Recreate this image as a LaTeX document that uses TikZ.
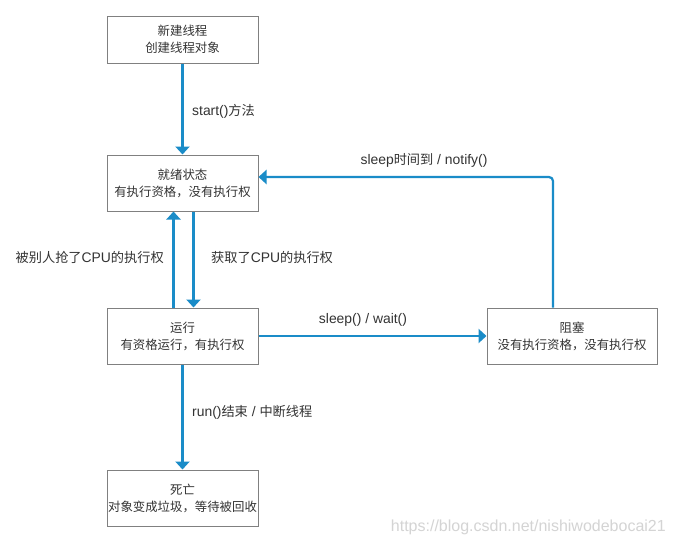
\documentclass[tikz,border=0pt]{standalone}
\usepackage{fontspec}
\setmainfont{Liberation Sans}
\newfontfamily\cjk{Noto Sans CJK SC}
\usetikzlibrary{arrows.meta}
\definecolor{arrblue}{HTML}{1A8CC8}
\definecolor{boxgray}{HTML}{808080}
\definecolor{txt}{HTML}{333333}
\definecolor{wm}{HTML}{D4D4D4}
\newcommand\latn[1]{{\fontsize{13.9}{15}\selectfont #1}}
\begin{document}
\begin{tikzpicture}[x=1pt,y=-1pt,
  statebox/.style={draw=boxgray, line width=1pt, fill=white, align=center, text=txt,
    font=\fontsize{12.4}{17}\selectfont, inner sep=0pt},
  arr/.style={draw=arrblue, line width=2.2pt, -{Triangle[width=14pt,length=8pt]}},
  lbl/.style={text=txt, font=\fontsize{13.2}{15}\selectfont, inner sep=0pt}]
\useasboundingbox[fill=white] (0,0) rectangle (673,544);
\node[statebox, minimum width=151pt, minimum height=47pt] (b1) at (182.5,39.5) {{\cjk 新建线程}\\{\cjk 创建线程对象}};
\node[statebox, minimum width=151pt, minimum height=56pt] (b2) at (182.5,183) {{\cjk 就绪状态}\\{\cjk 有执行资格，没有执行权}};
\node[statebox, minimum width=151pt, minimum height=56pt] (b3) at (182.5,336) {{\cjk 运行}\\{\cjk 有资格运行，有执行权}};
\node[statebox, minimum width=151pt, minimum height=56pt] (b4) at (182.5,498) {{\cjk 死亡}\\{\cjk 对象变成垃圾，等待被回收}};
\node[statebox, minimum width=170pt, minimum height=56pt] (b5) at (572,336) {{\cjk 阻塞}\\{\cjk 没有执行资格，没有执行权}};

\draw[arr] (b1.south) -- (b2.north);
\draw[arr] ([xshift=-9pt]b3.north) -- ([xshift=-9pt]b2.south);
\draw[arr] ([xshift=11pt]b2.south) -- ([xshift=11pt]b3.north);
\draw[arr] (b3.east) -- (b5.west);
\draw[arr, rounded corners=4pt] ([xshift=-19pt]b5.north) |- ([yshift=6pt]b2.east);
\draw[arr] (b3.south) -- (b4.north);

\node[lbl, anchor=west] (l1) at (192,111) {\latn{start()}{\cjk 方法}};
\node[lbl, anchor=east] (l2) at (164,257) {{\cjk 被别人抢了}\latn{CPU}{\cjk 的执行权}};
\node[lbl, anchor=west] (l3) at (211,257) {{\cjk 获取了}\latn{CPU}{\cjk 的执行权}};
\node[lbl] (l4) at (363,320) {\latn{sleep() / wait()}};
\node[lbl] (l5) at (424,160) {\latn{sleep}{\cjk 时间到}\latn{ / notify()}};
\node[lbl, anchor=west] (l6) at (192,412) {\latn{run()}{\cjk 结束}\latn{ / }{\cjk 中断线程}};
\node[text=wm, font=\fontsize{16}{18}\selectfont, anchor=east, inner sep=0pt] (w) at (666,527) {https://blog.csdn.net/nishiwodebocai21};
\end{tikzpicture}
\end{document}
